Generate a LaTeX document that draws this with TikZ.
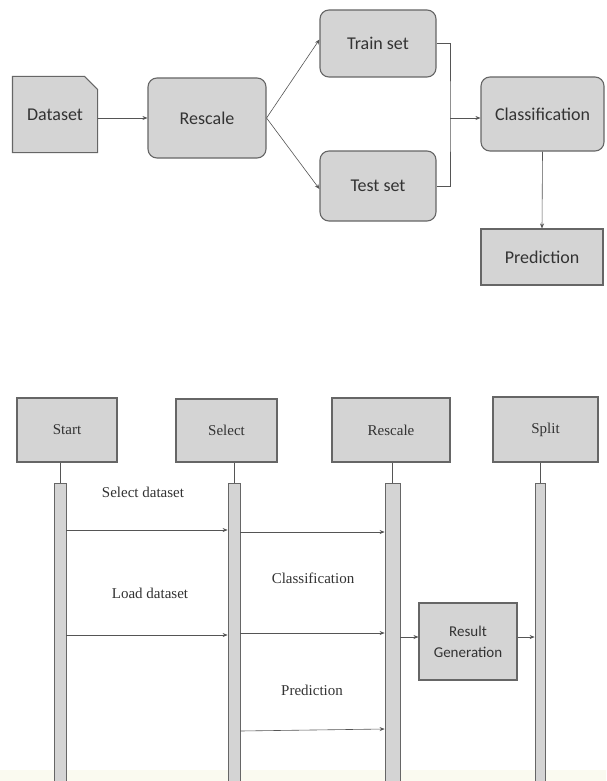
\documentclass[tikz,border=0pt]{standalone}
\usepackage{fontspec}
\usetikzlibrary{arrows.meta,backgrounds}
\newfontfamily\calfont{Carlito}
\newfontfamily\tmsfont{Liberation Serif}
\definecolor{boxfill}{HTML}{D4D4D4}
\definecolor{boxline}{HTML}{666666}
\definecolor{txt}{HTML}{333333}
\definecolor{wire}{HTML}{555555}
\definecolor{cream}{HTML}{FAFAF0}
\tikzset{
  topbox/.style={draw=boxline, fill=boxfill, line width=1.1pt, text=txt, inner sep=0pt,
     font=\calfont\fontsize{18}{21}\selectfont},
  roundbox/.style={topbox, rounded corners=9pt},
  seqbox/.style={draw=boxline, fill=boxfill, line width=1.1pt, text=txt, inner sep=0pt,
     font=\tmsfont\fontsize{15}{18}\selectfont},
  lifebar/.style={draw=boxline, fill=boxfill, line width=0.8pt, inner sep=0pt},
  msg/.style={text=txt, font=\tmsfont\fontsize{15}{18}\selectfont},
  arr/.style={draw=wire, line width=0.6pt, -{Stealth[length=5pt,width=4pt]}},
  wireline/.style={draw=wire, line width=0.6pt},
}
\begin{document}
\begin{tikzpicture}[x=1pt,y=-1pt]
\useasboundingbox (0,0) rectangle (606,781);
\begin{scope}[on background layer]
\fill[white] (0,0) rectangle (606,781);
\fill[cream] (0,770) rectangle (606,781);
\end{scope}

% ---------- top flow chart ----------
\node[topbox, draw=none, fill=none, minimum width=84pt, minimum height=75pt] (ds) at (55,114.5) {Dataset};
\begin{scope}[on background layer]
\draw[draw=boxline, fill=boxfill, line width=1.1pt]
  (ds.south west) -- (ds.north west) -- ([xshift=-13pt]ds.north east)
  -- ([yshift=-13pt]ds.north east) -- (ds.south east) -- cycle;
\end{scope}
\node[roundbox, minimum width=118pt, minimum height=80pt] (rs) at (207,118) {Rescale};
\node[roundbox, minimum width=116pt, minimum height=67pt] (tr) at (378,43.5) {Train set};
\node[roundbox, minimum width=116pt, minimum height=70pt] (te) at (378,186) {Test set};
\node[roundbox, minimum width=123pt, minimum height=74pt] (cl) at (542.5,114) {Classification};
\node[topbox, minimum width=122pt, minimum height=56pt] (pr) at (542,257) {Prediction};

\draw[arr] (ds.east |- rs.west) -- (rs.west);
\draw[arr] (rs.east) -- ([yshift=4pt]tr.west);
\draw[arr] (rs.east) -- ([yshift=-3pt]te.west);
\coordinate (j) at (450,118);
\draw[wireline] (tr.east) -| (j) |- (te.east);
\draw[arr] (j) -- (cl.west |- j);
\draw[arr] (cl.south) -- (pr.north);

% ---------- sequence diagram ----------
\node[seqbox, minimum width=100pt, minimum height=64pt] (st) at (67,430) {Start};
\node[seqbox, minimum width=101pt, minimum height=63pt] (se) at (226.5,430.5) {Select};
\node[seqbox, minimum width=118pt, minimum height=64pt] (rc) at (391,430) {Rescale};
\node[seqbox, minimum width=105pt, minimum height=65pt] (sp) at (545.5,429.5) {Split};

\node[lifebar, minimum width=12pt, minimum height=300pt] (b1) at (60,633) {};
\node[lifebar, minimum width=12pt, minimum height=300pt] (b2) at (234,633) {};
\node[lifebar, minimum width=15pt, minimum height=300pt] (b3) at (392.5,633) {};
\node[lifebar, minimum width=10pt, minimum height=300pt] (b4) at (540,633) {};

\draw[wireline] (st.south -| b1) -- (b1.north);
\draw[wireline] (se.south -| b2) -- (b2.north);
\draw[wireline] (rc.south -| b3) -- (b3.north);
\draw[wireline] (sp.south -| b4) -- (b4.north);

\coordinate (y1) at (0,530);
\coordinate (y2) at (0,532);
\coordinate (y3) at (0,635);
\coordinate (y4) at (0,633);
\coordinate (y5a) at (0,731);
\coordinate (y5b) at (0,729);
\coordinate (y6) at (0,637);

\draw[arr] (b1.east |- y1) -- (b2.west |- y1);
\draw[arr] (b2.east |- y2) -- (b3.west |- y2);
\draw[arr] (b1.east |- y3) -- (b2.west |- y3);
\draw[arr] (b2.east |- y4) -- (b3.west |- y4);
\draw[arr] (b2.east |- y5a) -- (b3.west |- y5b);

\node[msg] (m1) at (143,492) {Select dataset};
\node[msg] (m2) at (150,593) {Load dataset};
\node[msg] (m3) at (313,578) {Classification};
\node[msg] (m4) at (312,690) {Prediction};

\node[topbox, align=center, minimum width=98pt, minimum height=77pt,
      font=\calfont\fontsize{15}{21}\selectfont] (rg) at (468,641.5) {Result\\Generation};
\draw[arr] (b3.east |- y6) -- (rg.west |- y6);
\draw[arr] (rg.east |- y6) -- (b4.west |- y6);
\end{tikzpicture}
\end{document}
